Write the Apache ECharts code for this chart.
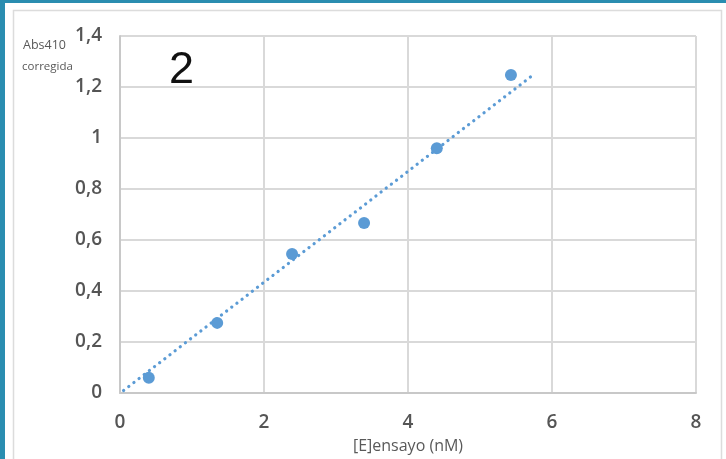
<!DOCTYPE html>
<html>
<head>
<meta charset="utf-8">
<script src="https://cdn.jsdelivr.net/npm/echarts@6/dist/echarts.min.js"></script>
<style>html,body{margin:0;padding:0;background:#fff}#c{width:726px;height:459px}</style>
</head>
<body>
<div id="c"></div>
<script>
var xValues = [0.40, 1.35, 2.39, 3.39, 4.40, 5.43];
var yValues = [0.06, 0.275, 0.545, 0.667, 0.96, 1.247];
var trendX = [0.05, 5.75];
var trendY = [0.01, 1.25];
var yTickLabels = ['0', '0,2', '0,4', '0,6', '0,8', '1', '1,2', '1,4'];
var xTickLabels = ['0', '2', '4', '6', '8'];
var panelLabel = '2';
var yTitle = ['Abs410', 'corregida'];
var xTitle = '[E]ensayo (nM)';

var chart = echarts.init(document.getElementById('c'), null, {renderer: 'canvas'});
var pts = xValues.map(function (x, i) { return [x, yValues[i]]; });
var tl = trendX.map(function (x, i) { return [x, trendY[i]]; });
var labelFont = '"Open Sans", "Liberation Sans", sans-serif';
chart.setOption({
  animation: false,
  backgroundColor: '#ffffff',
  grid: {left: 120, right: 30, top: 36, bottom: 66, show: false},
  graphic: [
    {type: 'rect', shape: {x: 0, y: 0, width: 5, height: 459}, style: {fill: '#2a8db0'}, silent: true, z: 0},
    {type: 'rect', shape: {x: 0, y: 0, width: 726, height: 3}, style: {fill: '#2a8db0'}, silent: true, z: 0},
    {type: 'rect', shape: {x: 13.5, y: 10.5, width: 708, height: 460}, style: {fill: 'none', stroke: '#dcdcdc', lineWidth: 1.5}, silent: true, z: 0},
    {type: 'text', left: 169, top: 48, style: {text: panelLabel, font: '45px "Liberation Sans", Arial, sans-serif', fill: '#111111'}, z: 10},
    {type: 'text', left: 23, top: 39, style: {text: yTitle[0], font: '12.5px ' + labelFont, fill: '#595959'}, z: 10},
    {type: 'text', left: 22, top: 61, style: {text: yTitle[1], font: '11.5px ' + labelFont, fill: '#595959', letterSpacing: -0.6}, z: 10}
  ],
  xAxis: {
    type: 'value', min: 0, max: 8, interval: 2,
    name: xTitle, nameLocation: 'middle', nameGap: 45,
    nameTextStyle: {color: '#595959', fontSize: 16, fontFamily: labelFont},
    axisLine: {show: true, lineStyle: {color: '#c8c8c8', width: 2}},
    axisTick: {show: false},
    axisLabel: {color: '#555555', fontSize: 19, fontWeight: 600, fontFamily: labelFont, margin: 20,
      formatter: function (v) { return xTickLabels[Math.round(v / 2)]; }},
    splitLine: {show: true, lineStyle: {color: '#d9d9d9', width: 2}}
  },
  yAxis: {
    type: 'value', min: 0, max: 1.4, interval: 0.2,
    axisLine: {show: true, lineStyle: {color: '#c8c8c8', width: 2}},
    axisTick: {show: false},
    axisLabel: {color: '#555555', fontSize: 19, fontWeight: 600, fontFamily: labelFont, margin: 18,
      formatter: function (v) { return yTickLabels[Math.round(v / 0.2)]; }},
    splitLine: {show: true, lineStyle: {color: '#d9d9d9', width: 2}}
  },
  series: [
    {type: 'line', data: tl, showSymbol: false, symbol: 'none', z: 2,
      lineStyle: {color: '#5b9bd5', width: 3.2, type: [0.1, 6.4], cap: 'round'}},
    {type: 'scatter', data: pts, symbol: 'circle', symbolSize: 12, z: 3,
      itemStyle: {color: '#5b9bd5', opacity: 1}}
  ]
});
</script>
</body>
</html>
